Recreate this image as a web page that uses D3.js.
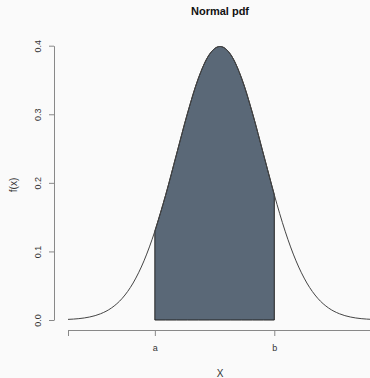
<!DOCTYPE html>
<html>
<head>
<meta charset="utf-8">
<script src="https://cdn.jsdelivr.net/npm/d3@7"></script>
<style>
  body { margin: 0; background: #fafafa; }
  text { font-family: "Liberation Sans", Arial, sans-serif; fill: #333; }
</style>
</head>
<body>
<div id="chart"></div>
<script>
// standard normal density
var xGrid = [-3.5, -3.25, -3, -2.75, -2.5, -2.25, -2, -1.75, -1.5, -1.25, -1, -0.75, -0.5, -0.25,
  0, 0.25, 0.5, 0.75, 1, 1.25, 1.5, 1.75, 2, 2.25, 2.5, 2.75, 3, 3.25, 3.5];
var density = [0.0009, 0.0020, 0.0044, 0.0091, 0.0175, 0.0317, 0.0540, 0.0863, 0.1295, 0.1826, 0.2420, 0.3011, 0.3521, 0.3867,
  0.3989, 0.3867, 0.3521, 0.3011, 0.2420, 0.1826, 0.1295, 0.0863, 0.0540, 0.0317, 0.0175, 0.0091, 0.0044, 0.0020, 0.0009];
var bounds = [-1.5, 1.25];
var boundLabels = ["a", "b"];
var xTicks = [-3.5, -1.5, 1.25, 3.5];
var xTickLabels = ["", "a", "b", ""];
var yTicks = [0, 0.1, 0.2, 0.3, 0.4];

var svgWidth = 370;
var svgHeight = 378;

var svg = d3.select("#chart")
  .append("svg")
  .attr("width", svgWidth)
  .attr("height", svgHeight);

var x = d3.scaleLinear().domain([-3.5, 3.5]).range([68, 372]);
var y = d3.scaleLinear().domain([0, 0.4]).range([320, 45.7]);

var pts = xGrid.map(function(d, i) { return [d, density[i]]; });

// shaded area between a and b
var inside = pts.filter(function(p) { return p[0] >= bounds[0] && p[0] <= bounds[1]; });
var area = d3.area()
  .x(function(p) { return x(p[0]); })
  .y0(y(0))
  .y1(function(p) { return y(p[1]); })
  .curve(d3.curveMonotoneX);

svg.append("path")
  .datum(inside)
  .attr("d", area)
  .attr("fill", "#5a6877")
  .attr("stroke", "#222")
  .attr("stroke-width", 1);

// density curve
var line = d3.line()
  .x(function(p) { return x(p[0]); })
  .y(function(p) { return y(p[1]); })
  .curve(d3.curveMonotoneX);

svg.append("path")
  .datum(pts)
  .attr("d", line)
  .attr("fill", "none")
  .attr("stroke", "#444")
  .attr("stroke-width", 1);

// x axis
var xAxis = svg.append("g").attr("transform", "translate(0,330)");
xAxis.call(d3.axisBottom(x).tickValues(xTicks).tickSize(6).tickSizeOuter(0)
  .tickFormat(function(d, i) { return xTickLabels[i]; }));
xAxis.select(".domain").attr("stroke", "#888").attr("d", "M" + x(xTicks[0]) + ",0.5H" + x(xTicks[xTicks.length - 1]));
xAxis.selectAll(".tick line").attr("stroke", "#888");
xAxis.selectAll(".tick text")
  .attr("y", 15)
  .style("font-family", "Liberation Sans, Arial, sans-serif")
  .style("font-size", "9px")
  .attr("fill", "#333");

// y axis
var yAxis = svg.append("g").attr("transform", "translate(54,0)");
yAxis.call(d3.axisLeft(y).tickValues(yTicks).tickSize(5).tickSizeOuter(0).tickFormat(d3.format(".1f")));
yAxis.select(".domain").attr("stroke", "#888");
yAxis.selectAll(".tick line").attr("stroke", "#888");
yAxis.selectAll(".tick text")
  .attr("x", null).attr("dy", null)
  .attr("text-anchor", "middle")
  .attr("transform", "translate(-13,0) rotate(-90)")
  .style("font-family", "Liberation Sans, Arial, sans-serif")
  .style("font-size", "9px")
  .attr("fill", "#333");

// title and axis labels
svg.append("text")
  .attr("x", 220)
  .attr("y", 15)
  .attr("text-anchor", "middle")
  .style("font-size", "11px")
  .style("font-weight", "bold")
  .style("fill", "#111")
  .text("Normal pdf");

svg.append("text")
  .attr("x", 220)
  .attr("y", 377)
  .attr("text-anchor", "middle")
  .style("font-size", "10px")
  .text("X");

svg.append("text")
  .attr("transform", "translate(17,185) rotate(-90)")
  .attr("text-anchor", "middle")
  .style("font-size", "10px")
  .text("f(x)");
</script>
</body>
</html>
